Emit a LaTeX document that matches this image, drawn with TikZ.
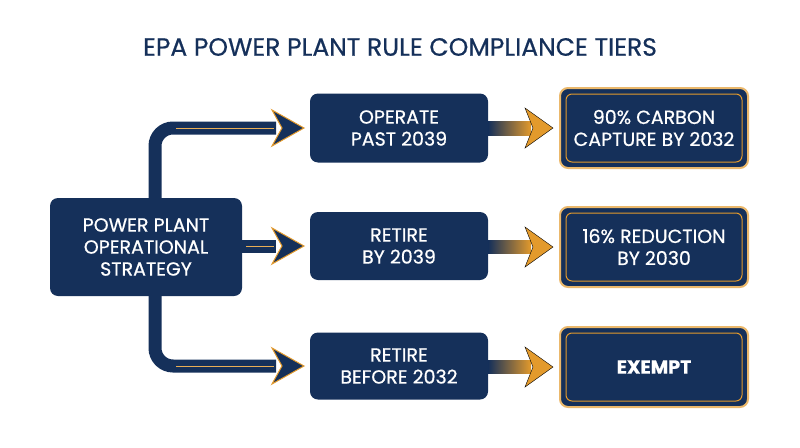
\documentclass[tikz,border=0pt]{standalone}
\usepackage{fontspec}
\setmainfont{Poppins}[FakeBold=0.6]
\usetikzlibrary{arrows.meta}
\definecolor{navy}{HTML}{15305A}
\definecolor{gold}{HTML}{E39A2C}
\begin{document}
\begin{tikzpicture}[x=1pt,y=-1pt,
  box/.style={fill=navy,rounded corners=8pt,text=white,align=center,font=\fontsize{19}{22}\selectfont,inner sep=0pt},
  tier/.style={box,draw=gold!70,line width=2pt},
  thick/.style={draw=navy,line width=13pt,rounded corners=18pt},
  head/.style={fill=navy,draw=gold,line width=1pt},
  ohead/.style={fill=gold},
]
\useasboundingbox (0,0) rectangle (800,447);
\node[font=\fontsize{25}{28}\selectfont,text=navy] (t) at (400,47) {EPA POWER PLANT RULE COMPLIANCE TIERS};
\node[box,minimum width=192pt,minimum height=98pt] (s) at (146,247) {POWER PLANT\\OPERATIONAL\\STRATEGY};
\node[box,minimum width=178pt,minimum height=69pt] (m1) at (399,128) {OPERATE\\PAST 2039};
\node[box,minimum width=178pt,minimum height=68pt] (m2) at (399,246) {RETIRE\\BY 2039};
\node[box,minimum width=178pt,minimum height=67pt] (m3) at (399,366) {RETIRE\\BEFORE 2032};
\foreach \n/\y/\t in {r1/128/{90\% CARBON\\CAPTURE BY 2032},r2/247/{16\% REDUCTION\\BY 2030},r3/367/{\bfseries EXEMPT}}{
  \node[tier,minimum width=188pt,minimum height=80pt] (\n) at (654,\y) {\t};
  \draw[gold,line width=1pt,rounded corners=6pt] ([shift={(7,-7)}]\n.south west) rectangle ([shift={(-7,7)}]\n.north east);
}
% thick connectors
\coordinate (a1) at (276,128); \coordinate (a2) at (276,246); \coordinate (a3) at (276,366);
\draw[thick] (s.north -| 155,0) -- (155,128) -- (a1);
\draw[thick] (s.south -| 155,0) -- (155,366) -- (a3);
\draw[thick] (s.east |- a2) -- (a2);
\foreach \a/\l in {a1/100,a2/30,a3/100}{
  \draw[gold!80,line width=1pt] ([xshift=-\l]\a) -- ([xshift=-2]\a);
  \draw[head] ([xshift=-4,yshift=-18]\a) -- ([xshift=28]\a) -- ([xshift=-4,yshift=18]\a) -- ([xshift=6]\a) -- cycle;
}
% orange arrows
\foreach \m/\r in {m1/r1,m2/r2,m3/r3}{
  \shade[left color=navy,right color=gold] ([yshift=-7]\m.east) rectangle ([xshift=-28,yshift=7]\r.west);
  \draw[ohead] ([xshift=-34,yshift=-20]\r.west) -- ([xshift=-6]\r.west) -- ([xshift=-34,yshift=20]\r.west) -- ([xshift=-26]\r.west) -- cycle;
}
\end{tikzpicture}
\end{document}
